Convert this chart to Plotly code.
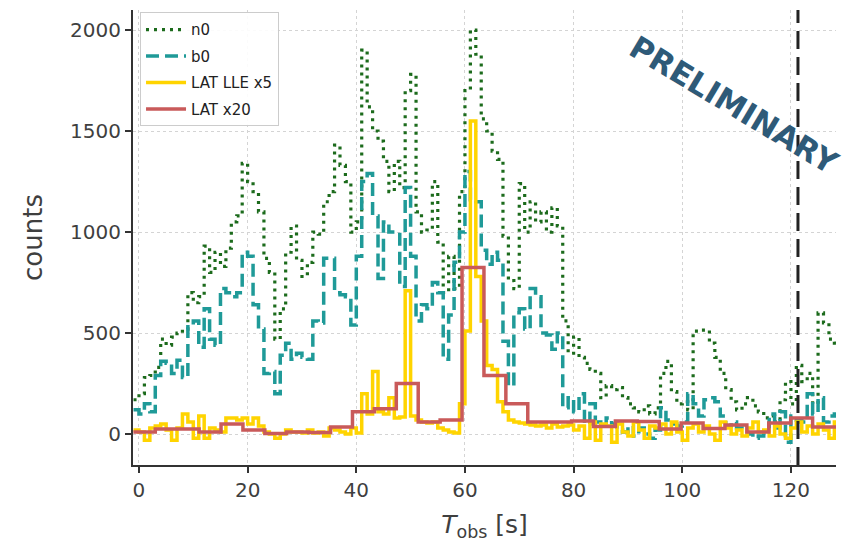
import plotly.graph_objects as go

# Fine light-curve binning (1 s bins starting at T0)
T0 = -1.0
FINE_DT = 1.0

# GBM NaI n0 counts per 1 s bin
n0 = [170, 200, 280, 290, 330, 470, 440, 480, 500, 520,
      700, 650, 680, 930, 800, 900, 830, 920, 1050, 1080,
      1340, 1250, 1200, 1100, 870, 800, 470, 620, 900, 1030,
      860, 780, 850, 1000, 990, 1150, 1200, 1430, 1330, 1250,
      1000, 1050, 1900, 1620, 1500, 1450, 1350, 1200, 1350, 1220,
      1700, 1780, 1100, 1000, 1010, 1250, 950, 700, 880, 720,
      1200, 1700, 2000, 1880, 1560, 1500, 1400, 1360, 980, 760,
      720, 1240, 1000, 1150, 1050, 1100, 1000, 1120, 1030, 560,
      400, 480, 380, 350, 320, 300, 180, 240, 220, 230,
      180, 150, 130, 110, 140, 100, 130, 300, 360, 210,
      150, 160, 120, 510, 515, 515, 450, 380, 300, 220,
      160, 120, 150, 180, 140, 110, 80, 90, 60, 170,
      260, 150, 340, 260, 300, 150, 600, 550, 470, 450, 420]

# GBM BGO b0 counts per 1 s bin
b0 = [120, 100, 150, 110, 290, 360, 350, 300, 365, 280,
      540, 560, 430, 620, 470, 440, 720, 700, 680, 700,
      900, 880, 640, 520, 300, 310, 200, 390, 450, 370,
      400, 380, 370, 560, 550, 870, 870, 700, 690, 680,
      540, 880, 1250, 1290, 1080, 770, 1050, 1000, 1000, 730,
      1220, 880, 560, 640, 620, 750, 700, 370, 590, 850,
      1000, 1300, 1160, 1150, 910, 840, 900, 860, 460, 240,
      600, 620, 520, 720, 680, 500, 490, 420, 500, 130,
      180, 110, 200, 50, 150, 60, 40, 80, 50, 20,
      10, 40, -10, 30, 0, -20, 20, 130, 70, 50,
      40, 60, 200, 150, 90, 170, 180, 160, 90, 40,
      60, 30, 20, 0, -20, -10, 20, 100, 30, 110,
      -40, 90, 70, 60, 200, 100, 180, 60, 90, 100, 80]

# LAT Low Energy events, scaled x5, per 1 s bin
lle = [20, 10, -30, 30, 40, 50, 20, -30, 30, 100,
       60, -20, 90, -20, 30, 20, 10, 80, 80, 70,
       80, 50, 80, 40, 10, 0, -20, 0, 20, 10,
       10, 5, 20, 5, 10, -10, 30, 20, 10, 0,
       30, 5, 200, 100, 310, 110, 100, 180, 80, 85,
       710, 90, 70, 60, 55, 60, 30, 20, 10, 5,
       150, 510, 1550, 780, 560, 340, 320, 160, 110, 70,
       60, 55, 50, 45, 40, 45, 30, 50, 35, 40,
       45, 20, 40, -20, 60, -30, 50, 40, -40, 50,
       10, -10, 60, 20, -20, 40, 30, 50, 0, 60,
       10, -30, 30, 50, 10, 40, 0, -30, 60, 30,
       0, 20, -10, 30, 60, 10, 20, -10, 40, 0,
       -20, 30, 60, 10, 40, 0, 50, 20, -20, 60, 30]

# LAT standard events, scaled x20, on coarse bins
LAT_T0 = -1.03
LAT_DT = 4.033
lat = [10, 25, 25, 10, 50, 20, 3, 10, 8, 35,
       110, 125, 250, 60, 70, 825, 290, 150, 60, 60,
       65, 38, 65, 62, 25, 55, 28, 45, 10, 55,
       80, 35, 35]

T_MARK = 121.3

x_ticks = [0, 20, 40, 60, 80, 100, 120]
y_ticks = [0, 500, 1000, 1500, 2000]


def step_xy(values, t0, dt):
    """Left bin edges plus closing edge, for an hv step line."""
    xs = [t0 + i * dt for i in range(len(values) + 1)]
    ys = list(values) + [values[-1]]
    return xs, ys


FONT = "DejaVu Sans"
fig = go.Figure()

series = [
    ("n0", n0, T0, FINE_DT, dict(color="#1c6b1c", width=3.2, dash="3px,5px")),
    ("b0", b0, T0, FINE_DT, dict(color="#1f9a98", width=3.5, dash="13px,6px")),
    ("LAT LLE x5", lle, T0, FINE_DT, dict(color="#ffd400", width=3.5)),
    ("LAT x20", lat, LAT_T0, LAT_DT, dict(color="#c95a5a", width=3.5)),
]
for name, vals, t0, dt, line in series:
    xs, ys = step_xy(vals, t0, dt)
    fig.add_trace(go.Scatter(x=xs, y=ys, mode="lines", name=name, legendgroup=name,
                             line=dict(shape="hv", **line)))

fig.add_shape(type="line", xref="x", yref="paper", x0=T_MARK, x1=T_MARK,
              y0=0, y1=1, line=dict(color="#222222", width=3, dash="18px,8px"))

fig.add_annotation(text="<b>PRELIMINARY</b>", xref="paper", yref="paper",
                   x=0.855, y=0.792, xanchor="center", yanchor="middle",
                   showarrow=False, textangle=31,
                   font=dict(family=FONT, size=31, color="#2e5a78"))

axis_common = dict(showline=True, linecolor="#333333", linewidth=2,
                   ticks="outside", ticklen=6, tickwidth=1.5, tickcolor="#333333",
                   showgrid=True, gridcolor="#d4d4d4", gridwidth=1, griddash="dot",
                   zeroline=False, mirror=False,
                   tickfont=dict(family=FONT, size=20, color="#3f3f3f"))

fig.update_xaxes(range=[-1.1, 128.3], tickvals=x_ticks,
                 title=dict(text="<i>T</i><sub>obs</sub> [s]", standoff=14,
                            font=dict(family=FONT, size=25, color="#3f3f3f")),
                 **axis_common)
fig.update_yaxes(range=[-153, 2099], tickvals=y_ticks,
                 title=dict(text="counts", standoff=20,
                            font=dict(family=FONT, size=26, color="#3f3f3f")),
                 **axis_common)

fig.update_layout(
    width=844, height=544,
    margin=dict(l=133, r=8, t=10, b=79),
    plot_bgcolor="white", paper_bgcolor="white",
    legend=dict(x=0.01, y=0.995, xanchor="left", yanchor="top",
                bgcolor="rgba(255,255,255,0.9)", bordercolor="#cccccc", borderwidth=1,
                font=dict(family=FONT, size=15, color="#222222"),
                tracegroupgap=4, itemwidth=40),
)

fig.write_html("out.html")
